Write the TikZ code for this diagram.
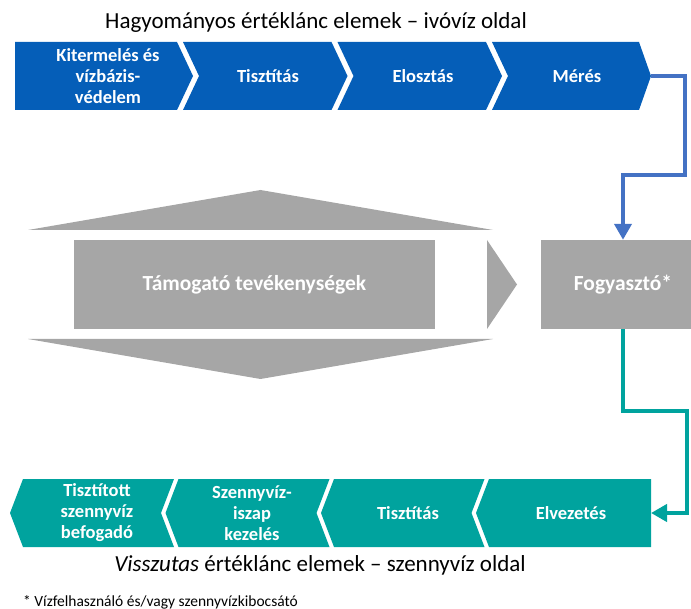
\documentclass[tikz,border=0pt]{standalone}
\usepackage{fontspec}
\setmainfont{Carlito}
\usetikzlibrary{arrows.meta}
\definecolor{chainblue}{RGB}{5,94,184}
\definecolor{linkblue}{RGB}{68,114,196}
\definecolor{chainteal}{RGB}{0,163,158}
\definecolor{supgray}{RGB}{166,166,166}
\tikzset{
  chaintxt/.style={text=white, font=\bfseries\fontsize{18.5}{21}\selectfont, align=center, inner sep=0pt},
  bluechev/.style={fill=chainblue, draw=none},
  tealchev/.style={fill=chainteal, draw=none},
  graypart/.style={fill=supgray, draw=none},
  graytxt/.style={text=white, font=\bfseries\fontsize{21.5}{24}\selectfont},
  linkline/.style={line width=4.5pt, -{Triangle[width=17pt,length=16pt]}},
  caption/.style={font=\fontsize{23}{27}\selectfont, anchor=base, inner sep=0pt}
}
\begin{document}
\begin{tikzpicture}[x=1pt,y=-1pt]
\useasboundingbox (0,0) rectangle (691,609);

% top title
\node[caption] (toptitle) at (316,29) {Hagyományos értéklánc elemek – ivóvíz oldal};

% top chain
\path[bluechev] (15,42) -- (177,42) -- (193,76) -- (177,110) -- (15,110) -- cycle;
\path[bluechev] (183,42) -- (331.5,42) -- (347.5,76) -- (331.5,110) -- (183,110) -- (199,76) -- cycle;
\path[bluechev] (337.5,42) -- (486,42) -- (502,76) -- (486,110) -- (337.5,110) -- (353.5,76) -- cycle;
\path[bluechev] (492,42) -- (639,42) -- (651,76) -- (639,110) -- (492,110) -- (508,76) -- cycle;
\coordinate (mtip) at (651,76);
\node[chaintxt] (t1) at (108,76) {Kitermelés és\\vízbázis-\\védelem};
\node[chaintxt] (t2) at (268,76) {Tisztítás};
\node[chaintxt] (t3) at (423,76) {Elosztás};
\node[chaintxt] (t4) at (577,76) {Mérés};

% support activities
\path[graypart] (28,230) -- (260.5,190) -- (493,230) -- cycle;
\path[graypart] (28,339) -- (260.5,379) -- (493,339) -- cycle;
\node[graypart, graytxt, minimum width=361pt, minimum height=89pt, inner sep=0pt] (support) at (254.5,284.5) {Támogató tevékenységek};
\path[graypart] (487,240) -- (517,284.5) -- (487,329) -- cycle;

% consumer
\begin{scope}
\clip (0,0) rectangle (691,609);
\node[graypart, graytxt, minimum width=164pt, minimum height=89pt, inner sep=0pt] (fogy) at (623,284.5) {Fogyasztó*};
\end{scope}

% bottom chain
\path[tealchev] (23,479) -- (174,479) -- (161,513) -- (174,547) -- (23,547) -- (10,513) -- cycle;
\path[tealchev] (178.5,479) -- (329.5,479) -- (316.5,513) -- (329.5,547) -- (178.5,547) -- (165.5,513) -- cycle;
\path[tealchev] (334,479) -- (484.5,479) -- (471.5,513) -- (484.5,547) -- (334,547) -- (321,513) -- cycle;
\path[tealchev] (489,479) -- (651,479) -- (651,547) -- (489,547) -- (476,513) -- cycle;
\coordinate (etip) at (651,513);
\node[chaintxt] (b1) at (97,513) {Tisztított\\szennyvíz\\befogadó};
\node[chaintxt] (b2) at (252,513) {Szennyvíz-\\iszap\\kezelés};
\node[chaintxt] (b3) at (408,513) {Tisztítás};
\node[chaintxt] (b4) at (571,513) {Elvezetés};

% connectors
\draw[linkline, linkblue] (mtip) -- ++(34,0) -- ++(0,99) -| (fogy.north);
\draw[linkline, chainteal] (fogy.south) -- ++(0,82) -- ++(64,0) |- (etip);

% bottom caption and footnote
\node[caption] (bottitle) at (320,571) {\itshape Visszutas\/\upshape{} értéklánc elemek – szennyvíz oldal};
\node[font=\fontsize{15.5}{18}\selectfont, anchor=base west, inner sep=0pt] (note) at (23,606) {* Vízfelhasználó és/vagy szennyvízkibocsátó};
\end{tikzpicture}
\end{document}
